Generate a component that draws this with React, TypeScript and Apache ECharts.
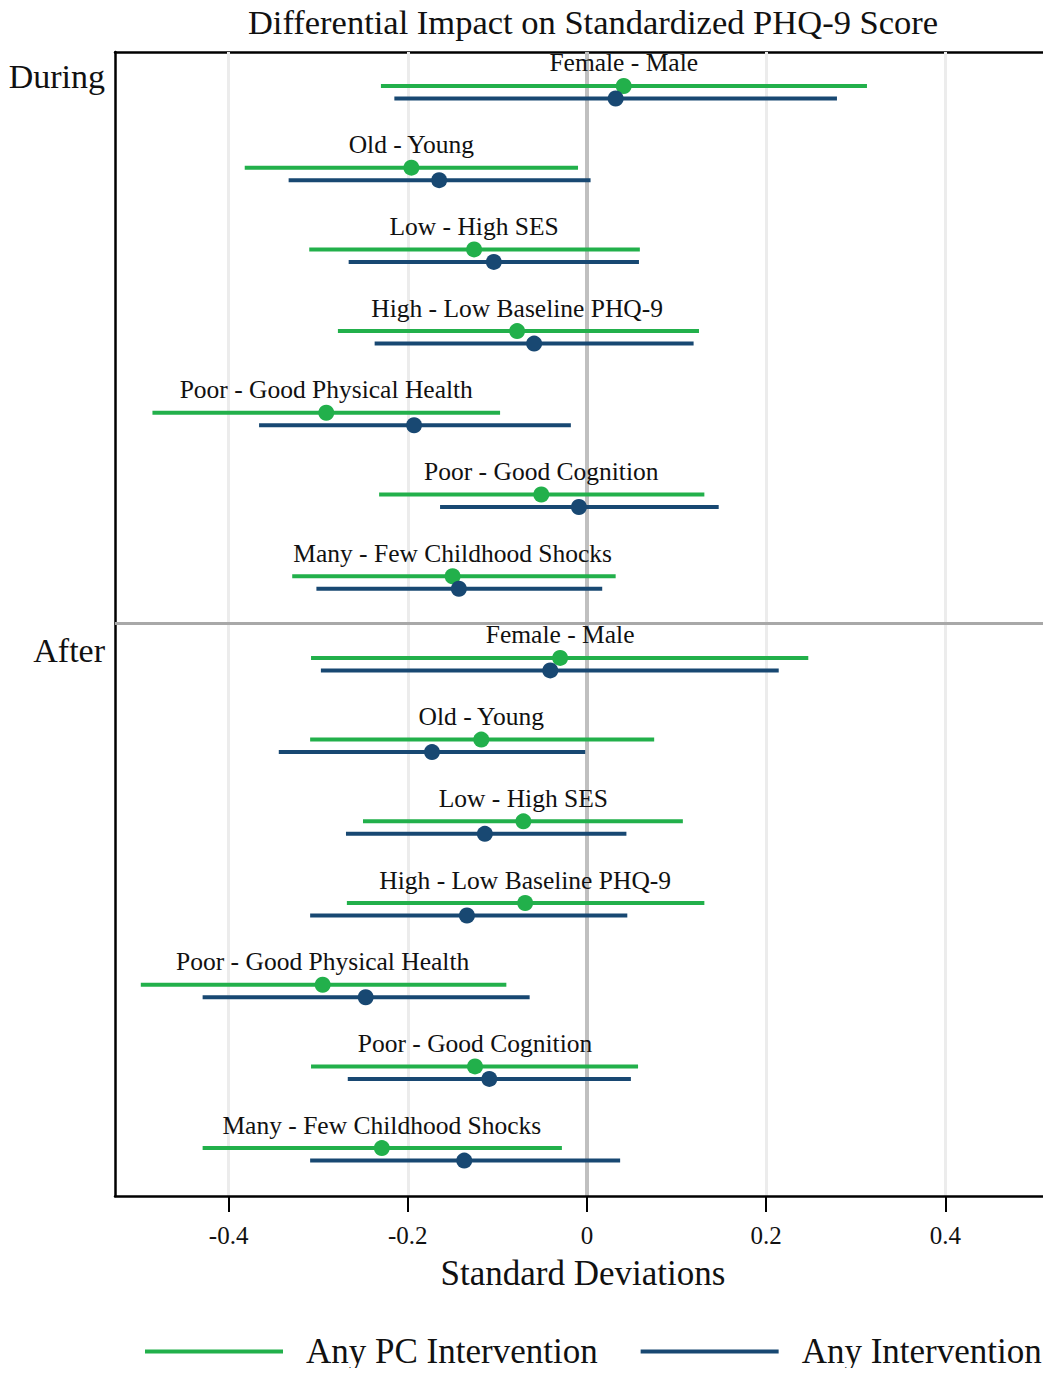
import React, { useEffect, useRef } from "react";
import * as echarts from "echarts";

// Contrasts shown in each period block
const contrasts = [
  "Female - Male",
  "Old - Young",
  "Low - High SES",
  "High - Low Baseline PHQ-9",
  "Poor - Good Physical Health",
  "Poor - Good Cognition",
  "Many - Few Childhood Shocks",
];
const periods = ["During", "After"];

// Any PC Intervention (green): estimate, lower and upper bound, During then After
const pcEst = [0.041, -0.196, -0.126, -0.078, -0.291, -0.051, -0.15, -0.03, -0.118, -0.071, -0.069, -0.295, -0.125, -0.229];
const pcLo = [-0.23, -0.382, -0.31, -0.278, -0.485, -0.232, -0.329, -0.308, -0.309, -0.25, -0.268, -0.498, -0.308, -0.429];
const pcHi = [0.3125, -0.01, 0.059, 0.125, -0.097, 0.131, 0.032, 0.247, 0.075, 0.107, 0.131, -0.09, 0.057, -0.028];

// Any Intervention (blue)
const anyEst = [0.032, -0.165, -0.104, -0.059, -0.193, -0.009, -0.143, -0.041, -0.173, -0.114, -0.134, -0.247, -0.109, -0.137];
const anyLo = [-0.215, -0.333, -0.266, -0.237, -0.366, -0.164, -0.302, -0.297, -0.344, -0.269, -0.309, -0.429, -0.267, -0.309];
const anyHi = [0.279, 0.004, 0.058, 0.119, -0.018, 0.147, 0.017, 0.214, -0.002, 0.044, 0.045, -0.064, 0.049, 0.037];

const xTicks = [-0.4, -0.2, 0, 0.2, 0.4];

const GREEN = "#22b04b";
const BLUE = "#184872";
const FONT = "Liberation Serif";
const BLUE_OFFSET = 0.153;

export default function App() {
  const ref = useRef<HTMLDivElement>(null);

  useEffect(() => {
    if (!ref.current) return;
    const chart = echarts.init(ref.current, null, { renderer: "svg" });

    const n = pcEst.length;
    const label = (k: number) => contrasts[k % contrasts.length];

    const pcBars = [];
    const anyBars = [];
    const pcPts = [];
    const anyPts = [];
    for (let k = 0; k < n; k++) {
      pcBars.push([pcLo[k], pcHi[k], k]);
      anyBars.push([anyLo[k], anyHi[k], k + BLUE_OFFSET]);
      pcPts.push({ value: [pcEst[k], k], name: label(k) });
      anyPts.push([anyEst[k], k + BLUE_OFFSET]);
    }
    // boundary between the two period blocks
    const split = (contrasts.length - 1 + BLUE_OFFSET + contrasts.length) / 2;

    const barRenderer = (color: string) => (params: any, api: any) => {
      const a = api.coord([api.value(0), api.value(2)]);
      const b = api.coord([api.value(1), api.value(2)]);
      return {
        type: "line",
        shape: { x1: a[0], y1: a[1], x2: b[0], y2: b[1] },
        style: { stroke: color, lineWidth: 4 },
      };
    };

    const gridLines = xTicks.map((v) => ({
      xAxis: v,
      lineStyle: v === 0 ? { color: "#c0c0c0", width: 4, type: "solid" } : { color: "#ececec", width: 3, type: "solid" },
    }));

    chart.setOption({
      animation: false,
      textStyle: { fontFamily: FONT },
      title: {
        text: "Differential Impact on Standardized PHQ-9 Score",
        left: 588,
        top: -1,
        textAlign: "center",
        textStyle: { fontFamily: FONT, fontSize: 34.5, fontWeight: "normal", color: "#111" },
      },
      grid: { left: 115, right: 0, top: 52, bottom: 180 },
      legend: {
        left: 145,
        top: 1334,
        width: 1000,
        padding: 0,
        itemWidth: 138,
        itemHeight: 4,
        itemGap: 43,
        icon: "rect",
        textStyle: { fontFamily: FONT, fontSize: 35, color: "#111", padding: [0, 0, 0, 18] },
        data: ["Any PC Intervention", "Any Intervention"],
      },
      xAxis: [
        {
          type: "value",
          min: -0.5268,
          max: 0.5179,
          position: "bottom",
          z: 10,
          axisLine: { show: true, onZero: false, lineStyle: { color: "#000", width: 2.5 } },
          axisTick: { show: true, customValues: xTicks, length: 16, lineStyle: { color: "#000", width: 2 } },
          axisLabel: {
            customValues: xTicks,
            fontFamily: FONT,
            fontSize: 25,
            color: "#111",
            margin: 27,
            formatter: (v: number) => String(v),
          },
          splitLine: { show: false },
          name: "Standard Deviations",
          nameLocation: "middle",
          nameGap: 60,
          nameTextStyle: { fontFamily: FONT, fontSize: 35, color: "#111" },
        },
        {
          type: "value",
          min: -0.5268,
          max: 0.5179,
          position: "top",
          z: 0,
          axisLine: { show: true, onZero: false, lineStyle: { color: "#000", width: 2.5 } },
          axisTick: { show: false },
          axisLabel: { show: false },
          splitLine: { show: false },
        },
      ],
      yAxis: {
        type: "value",
        inverse: true,
        min: -0.416,
        max: 13.586,
        axisLine: { show: true, onZero: false, lineStyle: { color: "#000", width: 2.5 } },
        axisTick: { show: false },
        axisLabel: { show: false },
        splitLine: { show: false },
      },
      graphic: periods.map((p, i) => ({
        type: "text",
        x: 105,
        y: i === 0 ? 76 : 650,
        style: {
          text: p,
          fontFamily: FONT,
          fontSize: 34,
          fill: "#111",
          align: "right",
          verticalAlign: "middle",
        },
      })),
      series: [
        {
          type: "line",
          data: [],
          z: 1,
          silent: true,
          markLine: {
            z: 1,
            silent: true,
            symbol: "none",
            label: { show: false },
            data: [
              ...gridLines,
              { yAxis: split, lineStyle: { color: "#a8a8a8", width: 3, type: "solid" } },
            ],
          },
        },
        {
          name: "Any PC Intervention",
          type: "custom",
          z: 3,
          itemStyle: { color: GREEN },
          renderItem: barRenderer(GREEN),
          encode: { x: [0, 1], y: 2 },
          data: pcBars,
        },
        {
          name: "Any Intervention",
          type: "custom",
          z: 3,
          itemStyle: { color: BLUE },
          renderItem: barRenderer(BLUE),
          encode: { x: [0, 1], y: 2 },
          data: anyBars,
        },
        {
          name: "Any PC Intervention",
          type: "scatter",
          z: 4,
          symbolSize: 16,
          itemStyle: { color: GREEN, opacity: 1 },
          label: {
            show: true,
            position: "top",
            distance: 2,
            formatter: (p: any) => p.name,
            fontFamily: FONT,
            fontSize: 25.5,
            color: "#111",
          },
          data: pcPts,
        },
        {
          name: "Any Intervention",
          type: "scatter",
          z: 4,
          symbolSize: 16,
          itemStyle: { color: BLUE, opacity: 1 },
          data: anyPts,
        },
      ],
    });

    return () => chart.dispose();
  }, []);

  return <div ref={ref} style={{ width: 1051, height: 1376, margin: -8 }} />;
}
